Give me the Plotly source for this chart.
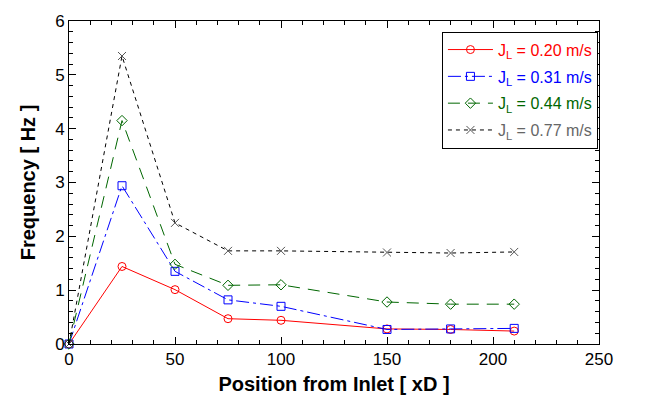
import plotly.graph_objects as go

positions = [0, 25, 50, 75, 100, 150, 180, 210]
freq_020 = [0, 1.44, 1.01, 0.47, 0.44, 0.28, 0.27, 0.24]
freq_031 = [0, 2.94, 1.35, 0.82, 0.70, 0.27, 0.28, 0.29]
freq_044 = [0, 4.15, 1.48, 1.09, 1.10, 0.78, 0.74, 0.74]
freq_077 = [0, 5.35, 2.25, 1.73, 1.73, 1.70, 1.69, 1.71]

labels = ["0.20", "0.31", "0.44", "0.77"]

series = [
    (freq_020, "#ff0000", "#ff0000", "solid", "circle-open", "#ff0000"),
    (freq_031, "#0000ff", "#0000ff", "13px,4px,3px,4px", "square-open", "#0000ff"),
    (freq_044, "#006600", "#006600", "12px,8px", "diamond-open", "#006600"),
    (freq_077, "#000000", "#555555", "4px,4px", "x-thin-open", "#666666"),
]

fig = go.Figure()
for i, ((vals, lc, mc, dash, sym, tc), lab) in enumerate(zip(series, labels)):
    fig.add_trace(go.Scatter(
        x=positions, y=vals, mode="lines+markers",
        name=f'<span style="color:{tc}">J<sub>L</sub> = {lab} m/s</span>',
        legendgroup=f"g{i}",
        line=dict(color=lc, width=1, dash=dash),
        marker=dict(symbol=sym, size=8, color=mc, line=dict(width=1, color=mc)),
        cliponaxis=False,
    ))

font = "Liberation Sans, Arial, sans-serif"
fig.update_layout(
    width=645, height=403,
    margin=dict(l=69, r=46, t=15, b=58),
    paper_bgcolor="white", plot_bgcolor="white",
    font=dict(family=font, size=16, color="black"),
    showlegend=True,
    legend=dict(
        x=0.998, y=0.967, xanchor="right", yanchor="top",
        bordercolor="black", borderwidth=1, bgcolor="white",
        font=dict(size=16), tracegroupgap=3, itemwidth=45,
        traceorder="grouped",
    ),
    xaxis=dict(
        range=[0, 250], dtick=50, tick0=0,
        showline=True, linecolor="black", linewidth=1, mirror="ticks",
        ticks="inside", ticklen=7, tickcolor="black",
        minor=dict(dtick=10, ticks="inside", ticklen=4, tickcolor="black"),
        showgrid=False, zeroline=False,
        title=dict(text="<b>Position from Inlet [ xD ]</b>", font=dict(size=20), standoff=8),
        tickfont=dict(size=17),
    ),
    yaxis=dict(
        range=[0, 6], dtick=1, tick0=0,
        showline=True, linecolor="black", linewidth=1, mirror="ticks",
        ticks="inside", ticklen=7, tickcolor="black",
        minor=dict(dtick=0.2, ticks="inside", ticklen=4, tickcolor="black"),
        showgrid=False, zeroline=False,
        title=dict(text="<b>Frequency [ Hz ]</b>", font=dict(size=20), standoff=14),
        tickfont=dict(size=17),
    ),
)

fig.write_html("out.html")
